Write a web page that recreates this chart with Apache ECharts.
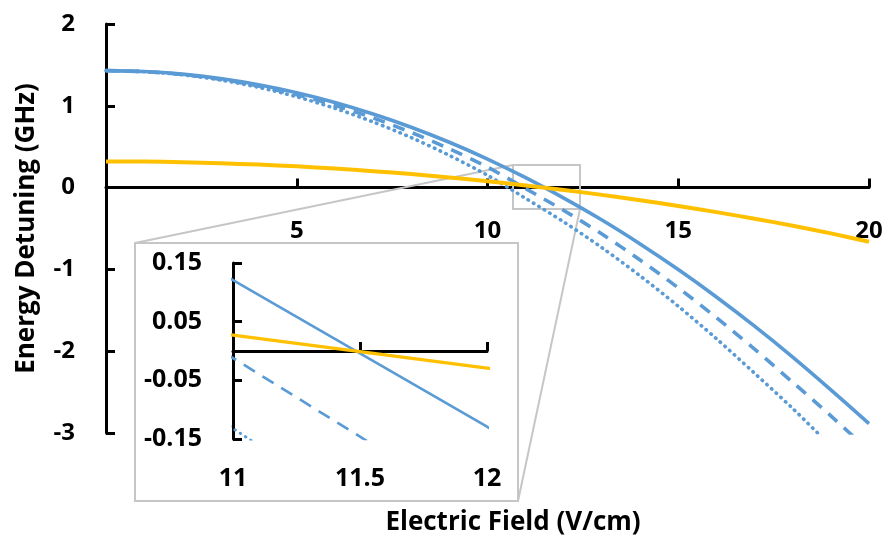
<!DOCTYPE html>
<html><head><meta charset="utf-8">
<script src="https://cdn.jsdelivr.net/npm/echarts@6/dist/echarts.min.js"></script>
<style>html,body{margin:0;padding:0;background:#fff}#c{width:889px;height:544px}</style>
</head><body><div id="c"></div>
<script>
// Electric field (V/cm)
const xValues = [0, 1, 2, 3, 4, 5, 6, 7, 8, 9, 10, 11, 12, 13, 14, 15, 16, 17, 18, 19, 20];
// Energy detuning (GHz)
const blueSolid  = [1.430, 1.419, 1.387, 1.333, 1.257, 1.160, 1.041, 0.900, 0.738, 0.554, 0.349, 0.121, -0.129, -0.397, -0.689, -1.002, -1.337, -1.694, -2.072, -2.472, -2.885];
const blueDashed = [1.430, 1.418, 1.383, 1.324, 1.241, 1.135, 1.005, 0.852, 0.675, 0.474, 0.250, -0.012, -0.280, -0.568, -0.885, -1.225, -1.590, -1.975, -2.380, -2.790, -3.220];
const blueDotted = [1.430, 1.417, 1.379, 1.315, 1.225, 1.110, 0.969, 0.803, 0.611, 0.393, 0.150, -0.132, -0.420, -0.735, -1.079, -1.450, -1.847, -2.269, -2.700, -3.160];
const yellow     = [0.320, 0.318, 0.310, 0.298, 0.281, 0.260, 0.233, 0.201, 0.165, 0.124, 0.078, 0.027, -0.029, -0.089, -0.154, -0.225, -0.300, -0.380, -0.466, -0.560, -0.662];

const FONT = '"Open Sans", "Noto Sans", sans-serif';
const BLUE = '#5B9BD5';
const GOLD = '#FFC000';
const GREY = '#c6c6c6';

function pairs(arr) {
  return xValues.slice(0, arr.length).map((x, i) => [x, arr[i]]);
}
const lbl = (size) => ({fontSize: size, fontWeight: 'bold', color: '#000', fontFamily: FONT});

const chart = echarts.init(document.getElementById('c'), null, {renderer: 'canvas'});

function mkSeries(grid) {
  const xi = grid, yi = grid;
  const sm = grid ? false : 0.3;
  return [
    {type: 'line', xAxisIndex: xi, yAxisIndex: yi, data: pairs(blueDotted), showSymbol: false, symbol: 'none', smooth: sm,
     lineStyle: {color: BLUE, width: grid ? 3 : 3.6, type: [0.5, 5.8], cap: 'round'}, z: 3},
    {type: 'line', xAxisIndex: xi, yAxisIndex: yi, data: pairs(blueDashed), showSymbol: false, symbol: 'none', smooth: sm,
     lineStyle: {color: BLUE, width: grid ? 2.7 : 3.6, type: grid ? [13, 9] : [12, 9]}, z: 3},
    {type: 'line', xAxisIndex: xi, yAxisIndex: yi, data: pairs(blueSolid), showSymbol: false, symbol: 'none', smooth: sm,
     lineStyle: {color: BLUE, width: grid ? 2.6 : 3.6}, z: 3},
    {type: 'line', xAxisIndex: xi, yAxisIndex: yi, data: pairs(yellow), showSymbol: false, symbol: 'none', smooth: sm,
     lineStyle: {color: GOLD, width: grid ? 3.3 : 4}, z: 4}
  ];
}

chart.setOption({
  animation: false,
  backgroundColor: '#fff',
  grid: [
    {left: 106, right: 20, top: 24, bottom: 111, outerBoundsMode: 'none'},
    {left: 233, top: 263, width: 254, height: 176, outerBoundsMode: 'none'}
  ],
  xAxis: [
    {gridIndex: 0, type: 'value', min: 0, max: 20, interval: 5,
     axisLine: {onZero: true, lineStyle: {color: '#000', width: 3}},
     axisTick: {inside: true, length: 9, lineStyle: {color: '#000', width: 3}},
     axisLabel: Object.assign({showMinLabel: false, margin: -214}, lbl(24)),
     splitLine: {show: false},
     name: 'Electric Field (V/cm)', nameLocation: 'middle', nameGap: 77,
     nameTextStyle: Object.assign({padding: [0, 0, 0, 51]}, lbl(26))},
    {gridIndex: 1, type: 'value', min: 11, max: 12, interval: 0.5,
     axisLine: {onZero: true, lineStyle: {color: '#000', width: 3}},
     axisTick: {inside: true, length: 9, lineStyle: {color: '#000', width: 3}},
     axisLabel: Object.assign({margin: 27}, lbl(25)),
     splitLine: {show: false}}
  ],
  yAxis: [
    {gridIndex: 0, type: 'value', min: -3, max: 2, interval: 1,
     axisLine: {show: true, onZero: false, lineStyle: {color: '#000', width: 3}},
     axisTick: {show: true, inside: true, length: 9, lineStyle: {color: '#000', width: 3}},
     axisLabel: Object.assign({margin: 31}, lbl(24)),
     splitLine: {show: false},
     name: 'Energy Detuning (GHz)', nameLocation: 'middle', nameGap: 66, nameRotate: 90,
     nameTextStyle: lbl(26)},
    {gridIndex: 1, type: 'value', min: -0.15, max: 0.15, interval: 0.1,
     axisLine: {show: true, onZero: false, lineStyle: {color: '#000', width: 3}},
     axisTick: {show: true, inside: true, length: 9, lineStyle: {color: '#000', width: 3}},
     axisLabel: Object.assign({margin: 31, formatter: v => v.toFixed(2)}, lbl(25)),
     splitLine: {show: false}}
  ],
  graphic: [
    {type: 'line', shape: {x1: 135, y1: 243, x2: 513, y2: 165}, style: {stroke: GREY, lineWidth: 2}, z: 1},
    {type: 'line', shape: {x1: 580, y1: 209, x2: 518, y2: 501}, style: {stroke: GREY, lineWidth: 2}, z: 1},
    {type: 'rect', shape: {x: 135, y: 243, width: 383, height: 258}, style: {fill: 'rgba(0,0,0,0)', stroke: GREY, lineWidth: 2}, z: 1},
    {type: 'rect', shape: {x: 513, y: 165, width: 67, height: 44}, style: {fill: 'rgba(0,0,0,0)', stroke: GREY, lineWidth: 2}, z: 1}
  ],
  series: mkSeries(0).concat(mkSeries(1))
});
</script>
</body></html>
